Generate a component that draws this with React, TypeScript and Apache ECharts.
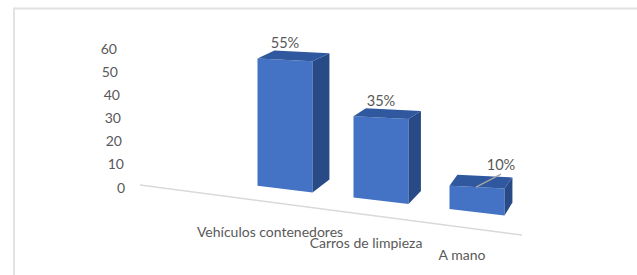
import React, { useEffect, useRef } from "react";
import * as echarts from "echarts";

const categories = ["Vehículos contenedores", "Carros de limpieza", "A mano"];
const values = [55, 35, 10];
const valueLabels = ["55%", "35%", "10%"];
const yTicks = [0, 10, 20, 30, 40, 50, 60];

const FONT = "Lato, 'Noto Sans', sans-serif";
const TEXT = "#595959";
const FRONT = "#4472C4";
const TOP = "#30589F";
const SIDE = "#284A87";

export default function App() {
  const ref = useRef<HTMLDivElement>(null);
  useEffect(() => {
    if (!ref.current) return;
    const chart = echarts.init(ref.current, undefined, { renderer: "svg" });
    const yMax = yTicks[yTicks.length - 1];
    const rich: Record<string, any> = {};
    yTicks.forEach((v) => {
      rich["t" + v] = {
        color: TEXT,
        fontSize: 14,
        fontFamily: FONT,
        padding: [0, Math.round((v / yMax) * 8), 0, 0],
      };
    });
    const GRID_LEFT = 237;
    const SKEW_X0 = GRID_LEFT + 30;
    const SB = 0.12; // bottom edge slope
    const ST = 0.05; // top edge slope

    const renderItem = (params: any, api: any) => {
      const idx = api.value(0);
      const v = api.value(1);
      const c = api.coord([idx, v]);
      const c0 = api.coord([idx, 0]);
      const band = api.size([1, 0])[0];
      const w = band * 0.573;
      const xL = c0[0] - w / 2;
      const xR = c0[0] + w / 2;
      const h = c0[1] - c[1];
      const yb = (x: number) => c0[1] + (x - SKEW_X0) * SB;
      const ybL = yb(xL);
      const ybR = yb(xR);
      const ytL = ybL - h;
      const ytR = ybL - h + (xR - xL) * ST;
      const dx = 17 - (xR - 311) * 0.047;
      const dyT = h > 40 ? -8 : -11;
      const dyB = -13;
      const children: any[] = [
        {
          type: "polygon",
          shape: { points: [[xL, ybL], [xR, ybR], [xR, ytR], [xL, ytL]] },
          style: { fill: FRONT },
        },
        {
          type: "polygon",
          shape: {
            points: [
              [xR, ybR],
              [xR + dx, ybR + dyB],
              [xR + dx, ytR + dyT],
              [xR, ytR],
            ],
          },
          style: { fill: SIDE },
        },
        {
          type: "polygon",
          shape: {
            points: [
              [xL, ytL],
              [xR, ytR],
              [xR + dx, ytR + dyT],
              [xL + dx, ytL + dyT],
            ],
          },
          style: { fill: TOP },
        },
      ];
      const cx = (xL + xR) / 2;
      const ytC = (ytL + ytR) / 2;
      if (h > 40) {
        children.push({
          type: "text",
          x: cx,
          y: ytC - 17,
          style: {
            text: valueLabels[idx],
            fill: TEXT,
            fontSize: 14.6,
            fontFamily: FONT,
            align: "center",
            verticalAlign: "middle",
          },
        });
      } else {
        children.push({
          type: "line",
          shape: { x1: cx - 1, y1: ytC, x2: cx + 24, y2: ytC - 13 },
          style: { stroke: "#A6A6A6", lineWidth: 1.5 },
        });
        children.push({
          type: "text",
          x: cx + 24,
          y: ytC - 23,
          style: {
            text: valueLabels[idx],
            fill: TEXT,
            fontSize: 14.6,
            fontFamily: FONT,
            align: "center",
            verticalAlign: "middle",
          },
        });
      }
      children.push({
        type: "text",
        x: cx - 15,
        y: yb(cx) + 42,
        style: {
          text: categories[idx],
          fill: TEXT,
          fontSize: 14,
          fontFamily: FONT,
          align: "center",
          verticalAlign: "middle",
        },
      });
      return { type: "group", children };
    };

    chart.setOption({
      animation: false,
      grid: { left: GRID_LEFT, right: 112, top: 48, bottom: 88 },
      xAxis: {
        type: "category",
        data: categories,
        axisLine: { show: false },
        axisTick: { show: false },
        axisLabel: { show: false },
        splitLine: { show: false },
      },
      yAxis: {
        type: "value",
        min: 0,
        max: yMax,
        interval: 10,
        offset: 104,
        axisLine: { show: false },
        axisTick: { show: false },
        splitLine: { show: false },
        axisLabel: {
          margin: 8,
          formatter: (v: number) => `{t${v}|${v}}`,
          rich,
        },
      },
      graphic: [
        {
          type: "rect",
          shape: { x: 14, y: 8.5, width: 700, height: 400 },
          style: { fill: "none", stroke: "#E2E2E2", lineWidth: 2 },
          silent: true,
        },
        {
          type: "line",
          shape: { x1: 140, y1: 185, x2: 522, y2: 235 },
          style: { stroke: "#D9D9D9", lineWidth: 1.5 },
          silent: true,
        },
      ],
      series: [
        {
          type: "custom",
          renderItem,
          data: values.map((v, i) => [i, v]),
          encode: { x: 0, y: 1 },
          clip: false,
        },
      ],
    });
    return () => chart.dispose();
  }, []);
  return (
    <div
      ref={ref}
      style={{ position: "fixed", left: 0, top: 0, width: 637, height: 275, background: "#fff" }}
    />
  );
}
